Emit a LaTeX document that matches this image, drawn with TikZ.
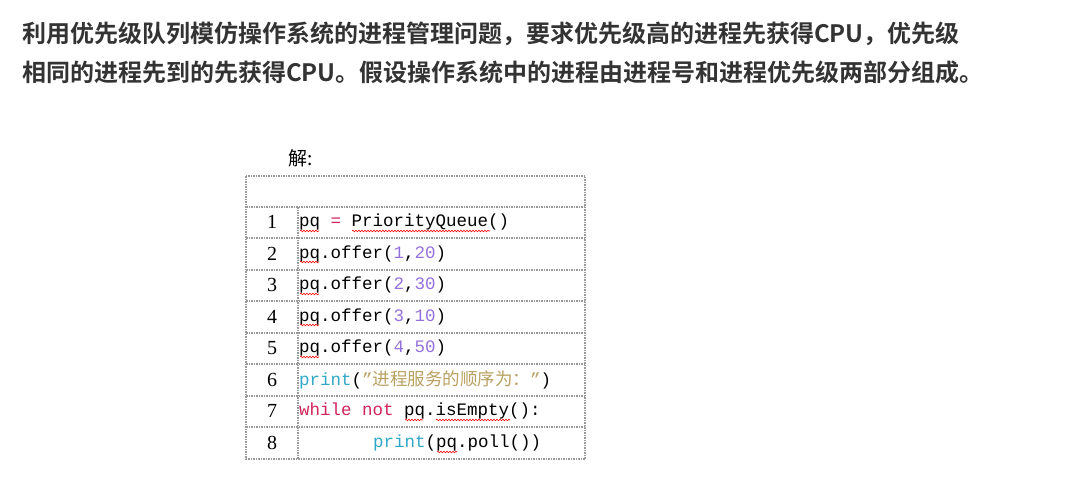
\documentclass[tikz,border=0pt]{standalone}
\usepackage{fontspec}
\setmainfont{Liberation Serif}
\newfontfamily\cjkb{Noto Sans CJK SC}[BoldFont={* Bold}]
\newfontfamily\cjk{Noto Sans CJK SC}
\newfontfamily\cmono{Liberation Mono}
\usetikzlibrary{decorations.pathmorphing}
\definecolor{tt}{HTML}{333333}
\definecolor{kw}{HTML}{D0245A}
\definecolor{num}{HTML}{9370DB}
\definecolor{fn}{HTML}{2FA8C8}
\definecolor{st}{HTML}{B8A060}
\begin{document}
\begin{tikzpicture}[x=1pt,y=-1pt,
  title/.style={anchor=west,inner sep=0,font=\cjkb\bfseries\fontsize{24}{26}\selectfont,text=tt},
  code/.style={anchor=west,inner sep=0,font=\cmono\fontsize{17.5}{20}\selectfont},
  lno/.style={inner sep=0,font=\fontsize{20}{22}\selectfont},
  grid/.style={draw=gray!80,line width=1.3pt,dash pattern=on 1.5pt off 1pt},
  wavy/.style={draw=red,line width=0.6pt,decorate,decoration={snake,amplitude=0.8pt,segment length=3pt}}]
\useasboundingbox (0,0) rectangle (1066,487);
\node[title] (t1) at (22,34) {利用优先级队列模仿操作系统的进程管理问题，要求优先级高的进程先获得CPU，优先级};
\node[title] (t2) at (22,72) {相同的进程先到的先获得CPU。假设操作系统中的进程由进程号和进程优先级两部分组成。};
\node[anchor=west,inner sep=0,font=\cjk\fontsize{19}{21}\selectfont] (jie) at (288,158) {解:};
\draw[grid] (246,176) rectangle (585,459);
\draw[grid] (246,207) -- (585,207);
\foreach \y in {238,270,301,333,364,396,427} \draw[grid] (246,\y) -- (585,\y);
\draw[grid] (298,207) -- (298,459);
\foreach \i/\y in {1/222,2/254,3/285,4/317,5/348,6/380,7/411,8/443}
  \node[lno] (n\i) at (272,\y) {\i};
\node[code] (c1) at (299,222) {pq {\color{kw}=} PriorityQueue()};
\node[code] (c2) at (299,254) {pq.offer({\color{num}1},{\color{num}20})};
\node[code] (c3) at (299,285) {pq.offer({\color{num}2},{\color{num}30})};
\node[code] (c4) at (299,317) {pq.offer({\color{num}3},{\color{num}10})};
\node[code] (c5) at (299,348) {pq.offer({\color{num}4},{\color{num}50})};
\node[code] (c6) at (299,380) {{\color{fn}print}({\color{st}”{\cjk 进程服务的顺序为：}”})};
\node[code] (c7) at (299,411) {{\color{kw}while not} pq.isEmpty():};
\node[code] (c8) at (373,443) {{\color{fn}print}(pq.poll())};
\foreach \y in {231,262,294,325,357} \draw[wavy] (300,\y) -- (319,\y);
\draw[wavy] (352,231) -- (490,231);
\draw[wavy] (405,420) -- (423,420);
\draw[wavy] (436,420) -- (510,420);
\draw[wavy] (437,452) -- (457,452);
\end{tikzpicture}
\end{document}
